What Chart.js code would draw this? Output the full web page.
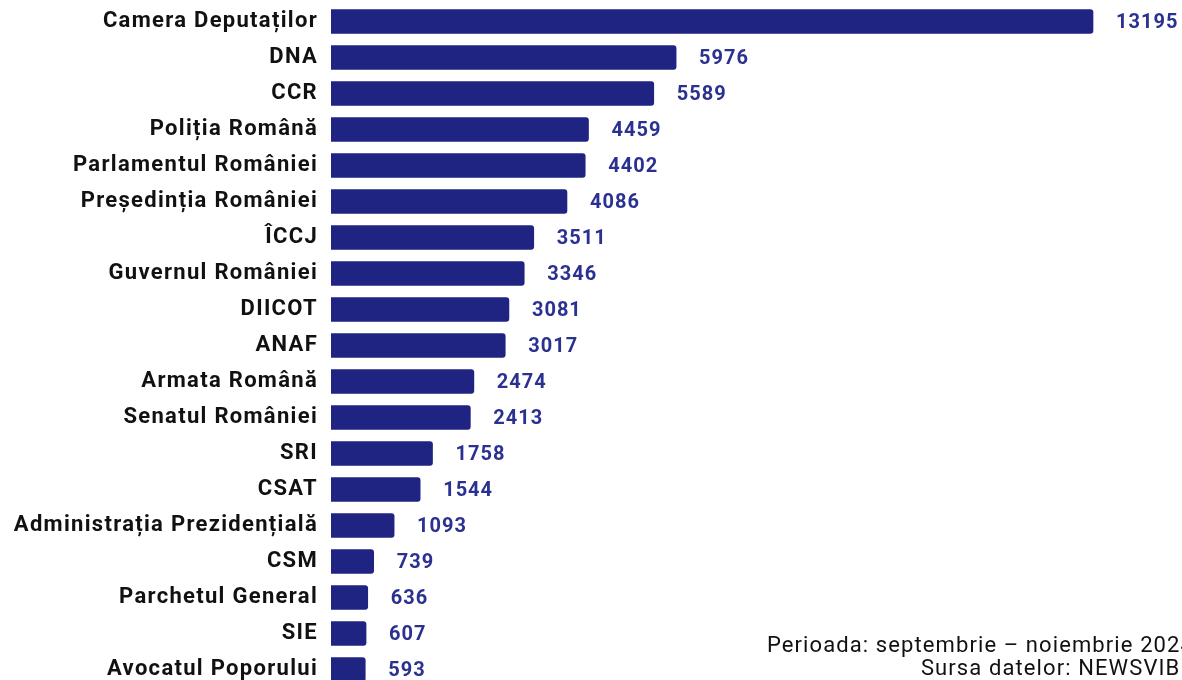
<!DOCTYPE html>
<html lang="ro">
<head>
<meta charset="utf-8">
<title>Instituții menționate</title>
<script src="https://cdn.jsdelivr.net/npm/chart.js@4"></script>
<style>
  html, body { margin: 0; padding: 0; background: #fff; overflow: hidden; }
  #wrap { position: relative; width: 1182px; height: 690px; }
  #note {
    position: absolute; right: -12px; top: 633px;
    font: 22px Roboto, sans-serif; line-height: 23px; letter-spacing: 1.1px;
    color: #111; text-align: right; white-space: nowrap;
  }
</style>
</head>
<body>
<div id="wrap">
  <canvas id="chart"></canvas>
  <div id="note">Perioada: septembrie – noiembrie 2024<br>Sursa datelor: NEWSVIBE</div>
</div>
<script>
const institutions = ['Camera Deputaților', 'DNA', 'CCR', 'Poliția Română', 'Parlamentul României',
  'Președinția României', 'ÎCCJ', 'Guvernul României', 'DIICOT', 'ANAF', 'Armata Română',
  'Senatul României', 'SRI', 'CSAT', 'Administrația Prezidențială', 'CSM', 'Parchetul General',
  'SIE', 'Avocatul Poporului'];
const mentions = [13195, 5976, 5589, 4459, 4402, 4086, 3511, 3346, 3081, 3017, 2474, 2413,
  1758, 1544, 1093, 739, 636, 607, 593];

const barColor = '#1f2482';
const valueColor = '#2b3190';

// the source picture has wide text, so spread the letters a bit
const letterSpread = {
  id: 'letterSpread',
  beforeDraw(chart) {
    chart.ctx.letterSpacing = '1.3px';
  },
};

// value labels after each bar
const valueLabels = {
  id: 'valueLabels',
  afterDatasetsDraw(chart) {
    const ctx = chart.ctx;
    const meta = chart.getDatasetMeta(0);
    ctx.save();
    ctx.font = 'bold 20px Roboto';
    ctx.letterSpacing = '1px';
    ctx.fillStyle = valueColor;
    ctx.textAlign = 'left';
    ctx.textBaseline = 'middle';
    meta.data.forEach((bar, i) => {
      ctx.fillText(String(mentions[i]), bar.x + 23, bar.y + 1);
    });
    ctx.restore();
  },
};

const canvas = document.getElementById('chart');
canvas.width = 1182;
canvas.height = 690;

new Chart(canvas, {
  type: 'bar',
  data: {
    labels: institutions,
    datasets: [{
      data: mentions,
      backgroundColor: barColor,
      barThickness: 24,
      borderRadius: 3,
    }],
  },
  options: {
    indexAxis: 'y',
    responsive: false,
    animation: false,
    layout: { padding: { top: 3.5, right: 42.5, bottom: 2.5, left: 0 } },
    plugins: { legend: { display: false }, tooltip: { enabled: false } },
    scales: {
      x: { display: false, min: 0, max: 14000 },
      y: {
        afterFit(axis) {
          axis.width = 331;
          axis.paddingTop = 0;
          axis.paddingBottom = 0;
        },
        grid: { display: false, drawTicks: false },
        border: { display: false },
        ticks: {
          color: '#111',
          padding: 13,
          font: { family: 'Roboto', size: 22, weight: 'bold' },
        },
      },
    },
  },
  plugins: [letterSpread, valueLabels],
});
</script>
</body>
</html>
